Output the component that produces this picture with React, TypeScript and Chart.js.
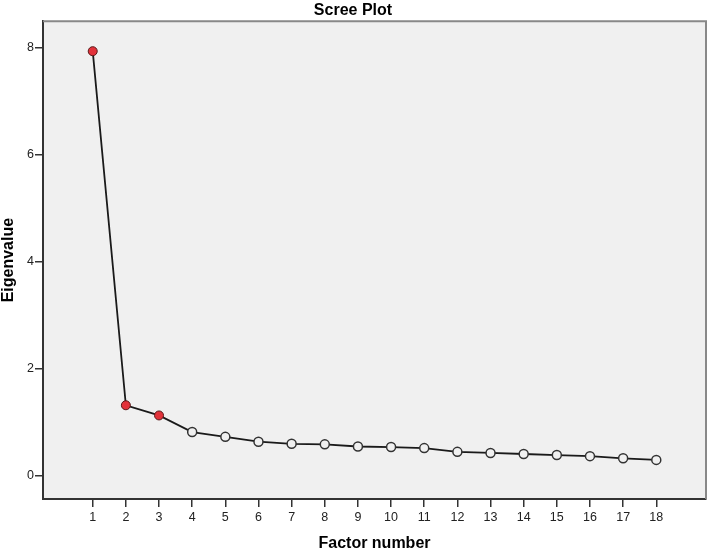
import React, { useEffect, useRef } from "react";
import { Chart, registerables } from "chart.js";

Chart.register(...registerables);

const factors = [1, 2, 3, 4, 5, 6, 7, 8, 9, 10, 11, 12, 13, 14, 15, 16, 17, 18];
const eigenvalues = [7.93, 1.32, 1.13, 0.82, 0.73, 0.64, 0.6, 0.59, 0.55, 0.54, 0.52, 0.45, 0.43, 0.41, 0.39, 0.37, 0.33, 0.3];
const retained = [true, true, true, false, false, false, false, false, false, false, false, false, false, false, false, false, false, false];
const yTickValues = [0, 2, 4, 6, 8];

const FONT = "'Liberation Sans', Arial, sans-serif";

const plotBg = {
  id: "plotBg",
  beforeDraw(chart: any) {
    const { ctx, chartArea } = chart;
    if (!chartArea) return;
    ctx.save();
    ctx.fillStyle = "#f0f0f0";
    ctx.fillRect(chartArea.left, chartArea.top, chartArea.right - chartArea.left, chartArea.bottom - chartArea.top);
    ctx.restore();
  },
  afterDraw(chart: any) {
    const { ctx, chartArea } = chart;
    if (!chartArea) return;
    ctx.save();
    ctx.strokeStyle = "#888";
    ctx.lineWidth = 2;
    ctx.beginPath();
    ctx.moveTo(chartArea.left, chartArea.top);
    ctx.lineTo(chartArea.right, chartArea.top);
    ctx.lineTo(chartArea.right, chartArea.bottom);
    ctx.stroke();
    ctx.restore();
  },
};

export default function App() {
  const ref = useRef<HTMLCanvasElement | null>(null);

  useEffect(() => {
    if (!ref.current) return;
    const chart = new Chart(ref.current, {
      type: "line",
      data: {
        datasets: [
          {
            data: factors.map((f, i) => ({ x: f, y: eigenvalues[i] })),
            borderColor: "#1a1a1a",
            borderWidth: 1.8,
            tension: 0,
            pointRadius: 4.5,
            pointHoverRadius: 4.5,
            pointBackgroundColor: retained.map((r) => (r ? "#e2323a" : "#f0f0f0")),
            pointBorderColor: retained.map((r) => (r ? "#5a1a1a" : "#333")),
            pointBorderWidth: retained.map((r) => (r ? 1 : 1.5)),
          },
        ],
      },
      options: {
        animation: false,
        responsive: false,
        devicePixelRatio: 1,
        layout: { autoPadding: false, padding: { top: 0, right: 3, bottom: 0, left: 0 } },
        plugins: {
          legend: { display: false },
          tooltip: { enabled: false },
          title: {
            display: true,
            text: "Scree Plot",
            color: "#000",
            font: { family: FONT, size: 16, weight: "bold" },
            padding: { top: 1, bottom: 1 },
          },
        },
        scales: {
          x: {
            type: "linear",
            min: -0.5,
            max: 19.5,
            afterBuildTicks: (scale: any) => {
              scale.ticks = factors.map((v) => ({ value: v }));
            },
            afterFit: (scale: any) => {
              scale.height = 54;
              scale.paddingLeft = 0;
              scale.paddingRight = 0;
            },
            ticks: {
              color: "#222",
              font: { family: FONT, size: 12.5 },
              padding: 3,
              maxRotation: 0,
              autoSkip: false,
              callback: (v: any) => String(v),
            },
            grid: {
              drawOnChartArea: false,
              drawTicks: true,
              tickLength: 8,
              color: "#333",
              lineWidth: 1.5,
            },
            border: { display: true, color: "#333", width: 2 },
            title: {
              display: true,
              text: "Factor number",
              color: "#000",
              font: { family: FONT, size: 16, weight: "bold" },
              padding: { top: 0, bottom: 0 },
            },
          },
          y: {
            type: "linear",
            min: -0.43,
            max: 8.49,
            afterBuildTicks: (scale: any) => {
              scale.ticks = yTickValues.map((v) => ({ value: v }));
            },
            afterFit: (scale: any) => {
              scale.width = 43;
              scale.paddingLeft = 0;
              scale.paddingRight = 0;
            },
            ticks: {
              color: "#222",
              font: { family: FONT, size: 12.5 },
              padding: 1,
              callback: (v: any) => String(v),
            },
            grid: {
              drawOnChartArea: false,
              drawTicks: true,
              tickLength: 8,
              color: "#333",
              lineWidth: 1.5,
            },
            border: { display: true, color: "#333", width: 2 },
            title: {
              display: true,
              text: "Eigenvalue",
              color: "#000",
              font: { family: FONT, size: 16, weight: "bold" },
              padding: { top: -1, bottom: 0 },
            },
          },
        },
      },
      plugins: [plotBg],
    });
    return () => chart.destroy();
  }, []);

  return (
    <div style={{ position: "absolute", left: 0, top: 0, width: 709, height: 553, background: "#fff" }}>
      <canvas ref={ref} width={709} height={553} style={{ display: "block" }} />
    </div>
  );
}
